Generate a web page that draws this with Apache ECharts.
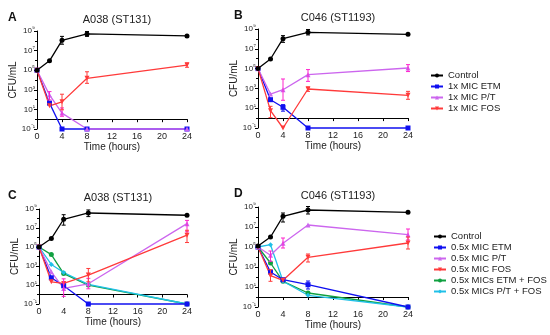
<!DOCTYPE html>
<html><head><meta charset="utf-8">
<script src="https://cdn.jsdelivr.net/npm/echarts@6/dist/echarts.min.js"></script>
<style>html,body{margin:0;padding:0;background:#fff}#c{width:550px;height:335px}</style>
</head><body><div id="c"></div>
<script>
// time points (hours)
const times = [0, 2, 4, 8, 24];
const xTicks = [0, 4, 8, 12, 16, 20, 24];
// y axis tick exponents (CFU/mL = 10^n)
const yTickExps = [-1, 1, 3, 5, 7, 9];

// Panel A: A038 (ST131), 1x MIC  (log10 CFU/mL)
const A_control = [5.0, 5.96, 8.05, 8.7, 8.5];
const A_etm     = [5.0, 1.64, -1, -1, -1];
const A_pt      = [5.0, 2.48, 0.62, -1, -1];
const A_fos     = [5.0, 1.36, 1.77, 4.17, 5.52];
// Panel B: C046 (ST1193), 1x MIC
const B_control = [5.0, 5.97, 8.02, 8.66, 8.46];
const B_etm     = [5.0, 1.86, 1.09, -1, -1];
const B_pt      = [5.0, 2.43, 2.87, 4.39, 5.06];
const B_fos     = [5.0, 0.75, -1, 2.94, 2.3];
// Panel C: A038 (ST131), 0.5x MIC
const C_control = [5.0, 5.89, 7.92, 8.58, 8.34];
const C_etm     = [5.0, 1.76, 0.92, -1, -1];
const C_pt      = [5.0, 2.39, 0.64, 1.13, 7.46];
const C_fos     = [5.0, 1.34, 1.17, 2.04, 6.24];
const C_etmfos  = [5.0, 4.2, 2.2, 0.99, -1];
const C_ptfos   = [5.0, 3.16, 2.32, 1.06, -1];
// Panel D: C046 (ST1193), 0.5x MIC
const D_control = [5.1, 6.0, 8.07, 8.7, 8.47];
const D_etm     = [5.0, 2.5, 1.73, 1.23, -1];
const D_pt      = [5.0, 4.17, 5.37, 7.2, 6.23];
const D_fos     = [5.0, 2.13, 1.67, 3.97, 5.4];
const D_etmfos  = [5.0, 3.4, 1.57, 0.4, -1];
const D_ptfos   = [5.0, 5.23, 1.57, 0.17, -1];

// error bars [time, low, high] (log10)
const A_control_err = [[4, 7.65, 8.45], [8, 8.45, 8.95]];
const A_pt_err      = [[2, 1.97, 2.82], [4, 0.3, 1.15]];
const A_fos_err     = [[4, 0.96, 2.55], [8, 3.66, 4.84], [24, 5.3, 5.75]];
const B_control_err = [[4, 7.65, 8.33], [8, 8.4, 8.95]];
const B_etm_err     = [[4, 0.7, 1.36]];
const B_pt_err      = [[4, 1.8, 3.95], [8, 3.71, 4.9], [24, 4.7, 5.4]];
const B_fos_err     = [[2, 0.05, 1.19], [8, 2.7, 3.15], [24, 1.9, 2.7]];
const C_control_err = [[4, 7.3, 8.4], [8, 8.2, 8.9]];
const C_pt_err      = [[4, -0.2, 1.65], [8, 0.6, 1.7], [24, 6.6, 7.8]];
const C_fos_err     = [[8, 1.34, 2.74], [24, 5.47, 6.76]];
const D_control_err = [[4, 7.5, 8.4], [8, 8.3, 9.05]];
const D_pt_err      = [[2, 3.57, 4.6], [4, 4.9, 5.9], [24, 5.7, 6.8]];
const D_fos_err     = [[2, 1.57, 2.73], [8, 3.5, 4.3], [24, 4.8, 6.0]];
const D_etm_err     = [[8, 0.8, 1.6]];

const titles = ['A038 (ST131)', 'C046 (ST1193)', 'A038 (ST131)', 'C046 (ST1193)'];
const letters = ['A', 'B', 'C', 'D'];
const legend1 = ['Control', '1x MIC ETM', '1x MIC P/T', '1x MIC FOS'];
const legend2 = ['Control', '0.5x MIC ETM', '0.5x MIC P/T', '0.5x MIC FOS', '0.5x MICs ETM + FOS', '0.5x MICs P/T + FOS'];

const COL = {control:'#000000', etm:'#1010f0', pt:'#cc66ee', fos:'#ff3a3a', etmfos:'#10a040', ptfos:'#20c0e8'};
const ERRCOL = {control:'#000000', etm:'#1010f0', pt:'#ff22cc', fos:'#ff3a3a'};
const SYM = {control:'circle', etm:'rect', pt:'triangle', fos:'triangle', etmfos:'circle', ptfos:'diamond'};
const ROT = {fos:180};

const grids = [
  {left:37, top:31, width:150, height:98},
  {left:258, top:29, width:150, height:99},
  {left:39, top:209, width:148, height:95},
  {left:258, top:207, width:150, height:100}
];

const panels = [
  {lines:{control:A_control, etm:A_etm, pt:A_pt, fos:A_fos}, errs:{control:A_control_err, pt:A_pt_err, fos:A_fos_err}, names:legend1},
  {lines:{control:B_control, etm:B_etm, pt:B_pt, fos:B_fos}, errs:{control:B_control_err, etm:B_etm_err, pt:B_pt_err, fos:B_fos_err}, names:legend1},
  {lines:{control:C_control, etmfos:C_etmfos, ptfos:C_ptfos, etm:C_etm, pt:C_pt, fos:C_fos}, errs:{control:C_control_err, pt:C_pt_err, fos:C_fos_err}, names:legend2},
  {lines:{control:D_control, etmfos:D_etmfos, ptfos:D_ptfos, etm:D_etm, pt:D_pt, fos:D_fos}, errs:{control:D_control_err, pt:D_pt_err, fos:D_fos_err, etm:D_etm_err}, names:legend2}
];
const keyIdx = {control:0, etm:1, pt:2, fos:3, etmfos:4, ptfos:5};

const supMap = {'-':'⁻','0':'⁰','1':'¹','2':'²','3':'³','4':'⁴','5':'⁵','6':'⁶','7':'⁷','8':'⁸','9':'⁹'};

const xAxes = [], yAxes = [], series = [], titleArr = [];
grids.forEach((g, i) => {
  xAxes.push({
    type:'value', gridIndex:i, min:0, max:24, interval:4,
    name:'Time (hours)', nameLocation:'middle', nameGap:13,
    nameTextStyle:{fontSize:10, color:'#222', fontFamily:'Liberation Sans'},
    axisLine:{lineStyle:{color:'#000', width:1}},
    axisTick:{length:3, lineStyle:{color:'#000'}},
    axisLabel:{fontSize:9, color:'#222', margin:3, fontFamily:'Liberation Sans'},
    splitLine:{show:false}
  });
  yAxes.push({
    type:'value', gridIndex:i, min:-1, max:9, interval:2,
    name:'CFU/mL', nameLocation:'middle', nameGap:17,
    nameTextStyle:{fontSize:10, color:'#222', fontFamily:'Liberation Sans'},
    axisLine:{show:true, lineStyle:{color:'#000', width:1}},
    axisTick:{show:true, length:3, lineStyle:{color:'#000'}},
    minorTick:{show:true, splitNumber:2, length:2, lineStyle:{color:'#000'}},
    axisLabel:{fontSize:8, color:'#222', margin:2, fontFamily:'Liberation Sans',
      formatter:v => yTickExps.includes(v) ? '{b|10}{s|' + String(v).split('').map(c=>supMap[c]).join('') + '}' : '',
      rich:{b:{fontSize:8, color:'#222', fontFamily:'Liberation Sans'}, s:{fontSize:7, color:'#222', fontFamily:'Liberation Sans', padding:[0,0,4,0]}}},
    splitLine:{show:false}
  });
  titleArr.push({text:titles[i], left:g.left + g.width/2, top:g.top - 22, textAlign:'center',
    textStyle:{fontSize:11, fontWeight:'normal', color:'#222', fontFamily:'Liberation Sans'}});
  titleArr.push({text:letters[i], left:(i%2===0)?3:229, top:g.top - 24,
    textStyle:{fontSize:12, fontWeight:'bold', color:'#111', fontFamily:'Liberation Sans'}});

  const p = panels[i];
  Object.keys(p.lines).forEach(k => {
    const arr = p.lines[k];
    series.push({
      type:'line', name:p.names[keyIdx[k]], xAxisIndex:i, yAxisIndex:i,
      data:times.map((t, j) => [t, arr[j]]),
      symbol:SYM[k], symbolSize:5, symbolRotate:ROT[k]||0,
      lineStyle:{color:COL[k], width:1.3}, itemStyle:{color:COL[k]}, clip:false,
      z:k==='control'?5:3
    });
  });
  Object.keys(p.errs).forEach(k => {
    series.push({
      type:'custom', xAxisIndex:i, yAxisIndex:i, data:p.errs[k], z:4, clip:false,
      renderItem:(params, api) => {
        const lo = api.coord([api.value(0), api.value(1)]);
        const hi = api.coord([api.value(0), api.value(2)]);
        const w = 2;
        const st = {stroke:ERRCOL[k], lineWidth:1};
        return {type:'group', children:[
          {type:'line', shape:{x1:lo[0], y1:lo[1], x2:hi[0], y2:hi[1]}, style:st},
          {type:'line', shape:{x1:lo[0]-w, y1:lo[1], x2:lo[0]+w, y2:lo[1]}, style:st},
          {type:'line', shape:{x1:hi[0]-w, y1:hi[1], x2:hi[0]+w, y2:hi[1]}, style:st}
        ]};
      }
    });
  });
});

const legendCommon = {orient:'vertical', itemWidth:12, itemHeight:5, itemGap:0,
  textStyle:{fontSize:9.5, color:'#222', fontFamily:'Liberation Sans', lineHeight:11, padding:[0,0,0,0]}, padding:0};

const chart = echarts.init(document.getElementById('c'), null, {renderer:'canvas'});
chart.setOption({
  animation:false,
  backgroundColor:'#fff',
  title:titleArr,
  grid:grids,
  xAxis:xAxes,
  yAxis:yAxes,
  legend:[
    Object.assign({left:430, top:70, data:legend1}, legendCommon),
    Object.assign({left:433, top:231, data:legend2}, legendCommon)
  ],
  series:series
});
</script></body></html>
